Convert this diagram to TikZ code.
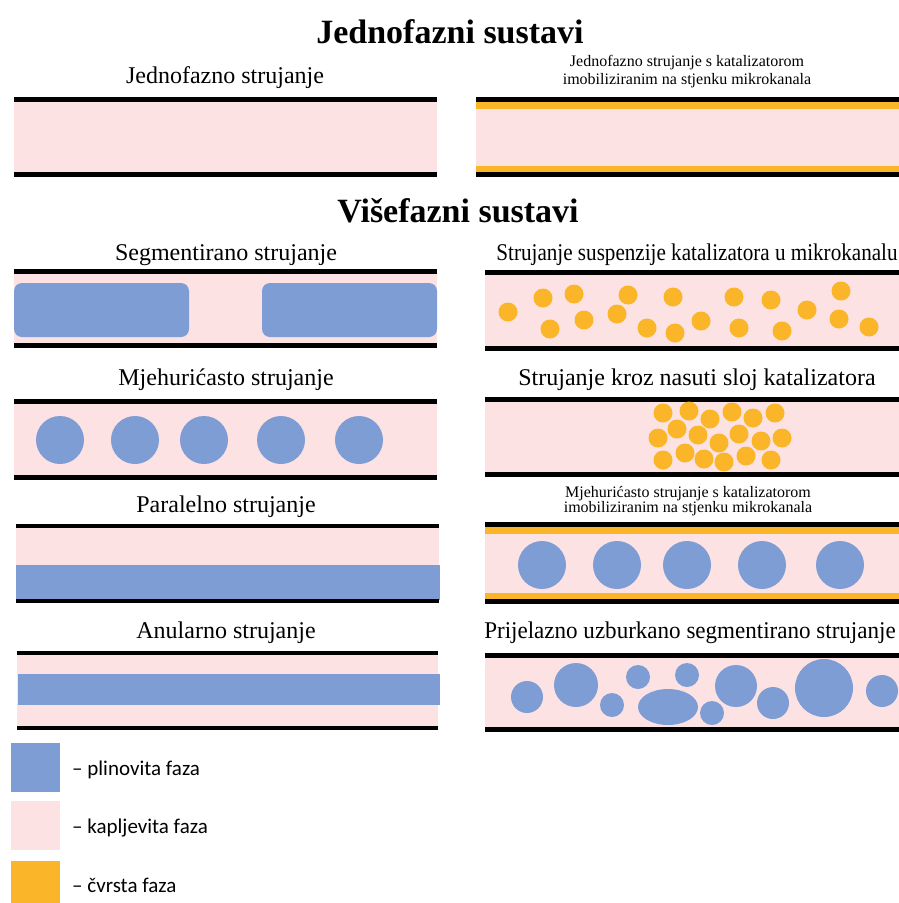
\documentclass[tikz,border=0pt]{standalone}
\usepackage{fontspec}
\setmainfont{Liberation Serif}
\newfontfamily\legendfont{Carlito}
\definecolor{liq}{RGB}{252,226,226}
\definecolor{gas}{RGB}{127,157,213}
\definecolor{sol}{RGB}{251,181,40}
\tikzset{
  lbl/.style={anchor=base, inner sep=0pt, font=\fontsize{24}{24}\selectfont},
  smalllbl/.style={anchor=base, inner sep=0pt, font=\fontsize{16}{18}\selectfont},
  ttl/.style={anchor=base, inner sep=0pt, font=\fontsize{34}{34}\selectfont\bfseries},
  leg/.style={anchor=base west, inner sep=0pt, font=\legendfont\fontsize{21}{21}\selectfont},
  gasf/.style={fill=gas},
  solf/.style={fill=sol},
}
\newcommand\mkchannel[4]{%
  \fill[liq] (#1,#3) rectangle (#2,#4);
  \fill[black] (#1,#3) rectangle (#2,#3+5);
  \fill[black] (#1,#4-5) rectangle (#2,#4);
}
\newcommand\mkcatchannel[4]{%
  \fill[liq] (#1,#3) rectangle (#2,#4);
  \fill[sol] (#1,#3+5) rectangle (#2,#3+12);
  \fill[sol] (#1,#4-11) rectangle (#2,#4-5);
  \fill[black] (#1,#3) rectangle (#2,#3+5);
  \fill[black] (#1,#4-5) rectangle (#2,#4);
}
\begin{document}
\begin{tikzpicture}[x=1pt,y=-1pt]
\useasboundingbox (0,0) rectangle (899,903);
\fill[white] (0,0) rectangle (899,903);

% ---------- single phase ----------
\node[ttl] (t1) at (450,43) {Jednofazni sustavi};
\node[lbl] (l1) at (225,83) {Jednofazno strujanje};
\node[smalllbl] (r1a) at (687,66) {Jednofazno strujanje s katalizatorom};
\node[smalllbl] (r1b) at (687,84) {imobiliziranim na stjenku mikrokanala};
\mkchannel{14}{437}{97}{177}
\mkcatchannel{476}{899}{97}{177}

% ---------- multiphase ----------
\node[ttl] (t2) at (458,222) {Višefazni sustavi};

% segmented
\node[lbl] (l2) at (226,260) {Segmentirano strujanje};
\mkchannel{14}{437}{269}{348}
\fill[gasf, rounded corners=8pt] (14,283) rectangle (189,337);
\fill[gasf, rounded corners=8pt] (262,283) rectangle (437,337);

% suspension
\node[lbl] (r2) at (697,260) {\scalebox{0.88}[1]{Strujanje suspenzije katalizatora u mikrokanalu}};
\mkchannel{485}{899}{270}{351}
\foreach \px/\py in {508/312,543/298,574/294,550/329,584/320,628/295,617/314,647/328,673/297,675/333,701/321,734/297,739/328,771/300,782/331,807/310,841/291,839/319,869/327}
  \fill[solf] (\px,\py) circle (9.5);

% bubbly
\node[lbl] (l3) at (226,385) {Mjehurićasto strujanje};
\mkchannel{14}{437}{399}{480}
\foreach \px in {60,135,204,281,359}
  \fill[gasf] (\px,440) circle (24);

% packed bed
\node[lbl] (r3) at (697,385) {Strujanje kroz nasuti sloj katalizatora};
\mkchannel{485}{899}{397}{477}
\foreach \px/\py in {663/413,689/411,710/419,732/412,753/418,775/413,677/429,658/438,698/435,719/443,739/434,761/441,782/438,663/460,685/453,704/459,724/462,746/456,771/460}
  \fill[solf] (\px,\py) circle (9.5);

% parallel
\node[lbl] (l4) at (226,512) {Paralelno strujanje};
\fill[liq] (16,524) rectangle (439,603);
\fill[gasf] (16,565) rectangle (440,600);
\fill[black] (16,524) rectangle (439,528);
\fill[black] (16,599) rectangle (439,603);

% bubbly with catalyst
\node[smalllbl] (r4a) at (688,497) {Mjehurićasto strujanje s katalizatorom};
\node[smalllbl] (r4b) at (688,512) {imobiliziranim na stjenku mikrokanala};
\mkcatchannel{485}{899}{522}{604}
\foreach \px in {542,617,687,762,840}
  \fill[gasf] (\px,565) circle (24);

% annular
\node[lbl] (l5) at (226,638) {Anularno strujanje};
\fill[liq] (17,651) rectangle (438,730);
\fill[gasf] (18,674) rectangle (440,705);
\fill[black] (17,651) rectangle (438,655);
\fill[black] (17,726) rectangle (438,730);

% transitional
\node[lbl] (r5) at (690,638) {\scalebox{0.96}[1]{Prijelazno uzburkano segmentirano strujanje}};
\mkchannel{485}{899}{653}{732}
\foreach \px/\py/\pr in {527/697/16,576/685/22,612/705/12,638/677/12,687/675/12,712/713/12,736/686/21,773/703/16,824/688/29,882/691/16}
  \fill[gasf] (\px,\py) circle (\pr);
\fill[gasf] (668,707) ellipse [x radius=30, y radius=18];

% ---------- legend ----------
\fill[gas] (11,743) rectangle (60,792);
\fill[liq] (11,801) rectangle (60,850);
\fill[sol] (11,861) rectangle (60,903);
\node[leg] (g1) at (72,775) {– plinovita faza};
\node[leg] (g2) at (72,833) {– kapljevita faza};
\node[leg] (g3) at (72,892) {– čvrsta faza};
\end{tikzpicture}
\end{document}
